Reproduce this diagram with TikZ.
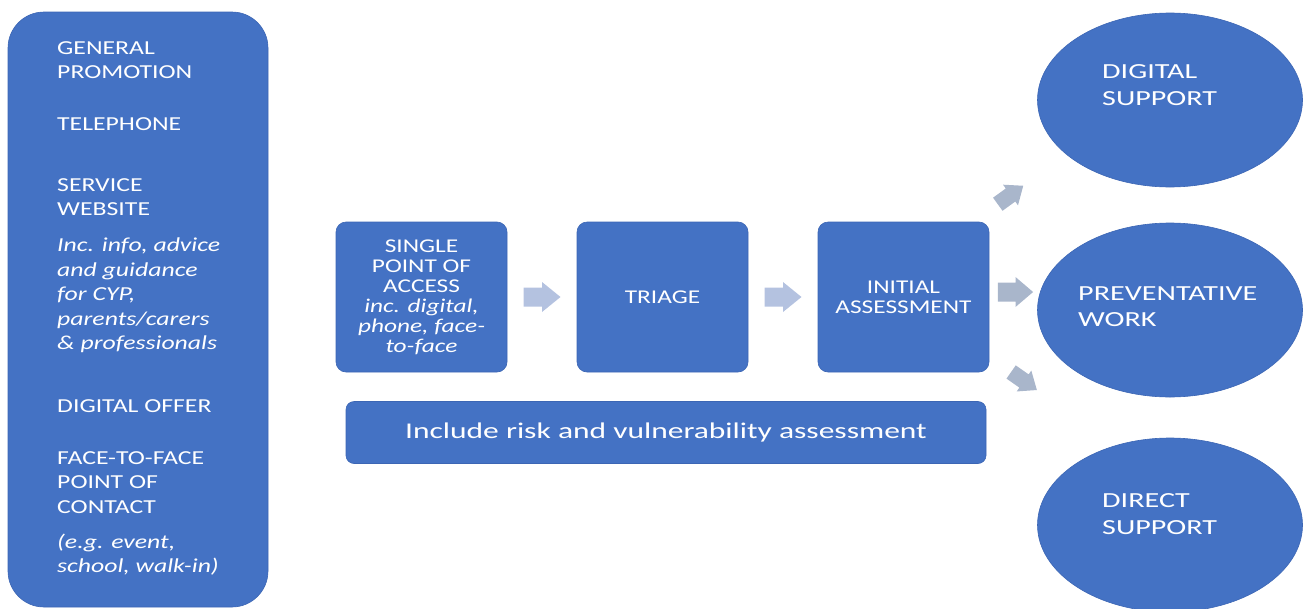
\documentclass[tikz,border=0pt]{standalone}
\usepackage{fontspec}
\setmainfont{Carlito}[FakeStretch=1.3]
\newfontfamily\widefont{Carlito}[FakeStretch=1.4]
\usetikzlibrary{positioning,calc,shapes.geometric}

\definecolor{boxblue}{HTML}{4472C4}
\definecolor{boxedge}{HTML}{3C66B4}
\definecolor{flowarrow}{HTML}{B4C2E0}
\definecolor{outarrow}{HTML}{A9B6CB}

\tikzset{
  blockarrow/.pic={
    \fill (-18.5,-9.5) -- (0,-9.5) -- (0,-15) -- (18.5,0) -- (0,15) -- (0,9.5) -- (-18.5,9.5) -- cycle;
  }
}

\begin{document}
\begin{tikzpicture}[x=1pt,y=-1pt,
  sidebox/.style={fill=boxblue,draw=boxedge,line width=0.6pt,rounded corners=36pt,minimum width=260pt,minimum height=595pt},
  stage/.style={fill=boxblue,draw=boxedge,line width=0.6pt,rounded corners=10pt,minimum width=171pt,minimum height=150pt,
    text=white,align=center,inner sep=0pt,font=\fontsize{19.5}{20}\selectfont},
  riskbar/.style={fill=boxblue,draw=boxedge,line width=0.6pt,rounded corners=8pt,minimum width=640pt,minimum height=62pt,
    text=white,font=\widefont\fontsize{22.5}{26}\selectfont},
  outcome/.style={ellipse,fill=boxblue,draw=boxedge,line width=0.6pt,minimum width=265pt,minimum height=174pt,inner sep=0pt},
  listtext/.style={text=white,align=left,inner sep=0pt,anchor=base west,font=\fontsize{19.8}{24.5}\selectfont},
  outtext/.style={text=white,align=left,inner sep=0pt,anchor=base west,font=\widefont\fontsize{21.5}{26.5}\selectfont}]
\useasboundingbox (0,0) rectangle (1306,608);

% routes in (base = last line)
\node[sidebox] (routes) at (138,309.5) {};
\node[listtext] (promo) at (57,78.5) {GENERAL\\PROMOTION};
\node[listtext] (phone) at (57,130) {TELEPHONE};
\node[listtext] (web) at (57,215.5) {SERVICE\\WEBSITE};
\node[listtext] (webinfo) at (57,349.5) {\itshape Inc. info, advice\\\itshape and guidance\\\itshape for CYP,\\\itshape parents/carers\\\itshape \& professionals};
\node[listtext] (digital) at (57,412) {DIGITAL OFFER};
\node[listtext] (f2f) at (57,513) {FACE-TO-FACE\\POINT OF\\CONTACT};
\node[listtext] (f2finfo) at (57,572.5) {\itshape (e.g. event,\\\itshape school, walk-in)};

% pathway
\node[stage] (spa) at (421.5,297) {SINGLE\\POINT OF\\ACCESS\\\itshape inc. digital,\\\itshape phone, face-\\\itshape to-face};
\node[stage] (triage) at (662.5,297) {TRIAGE};
\node[stage] (assess) at (903.5,297) {INITIAL\\ASSESSMENT};
\node[riskbar] (risk) at (666,432.5) {Include risk and vulnerability assessment};

\pic[flowarrow] at ($(spa.east)!0.5!(triage.west)$) {blockarrow};
\pic[flowarrow] at ($(triage.east)!0.5!(assess.west)$) {blockarrow};

% outcomes
\node[outcome] (digsupport) at (1170,100) {};
\node[outcome] (prevent) at (1170,310) {};
\node[outcome] (dirsupport) at (1170,525) {};
\node[outtext] (digtext) at (1102,105) {DIGITAL\\SUPPORT};
\node[outtext] (preventtext) at (1078,326.5) {PREVENTATIVE\\WORK};
\node[outtext] (dirtext) at (1102,534) {DIRECT\\SUPPORT};

\pic[outarrow,xscale=0.95] at (1015.5,292) {blockarrow};
\pic[outarrow,rotate=36,scale=0.85] at (1010.5,195) {blockarrow};
\pic[outarrow,rotate=-35,scale=0.85] at (1024,381) {blockarrow};
\end{tikzpicture}
\end{document}
